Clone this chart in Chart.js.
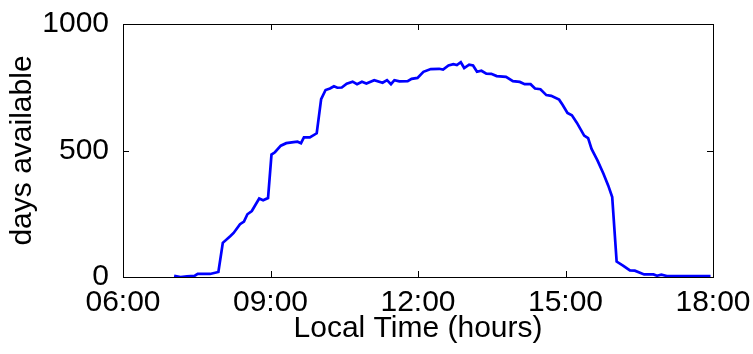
<!DOCTYPE html>
<html>
<head>
<meta charset="utf-8">
<script src="https://cdn.jsdelivr.net/npm/chart.js@4/dist/chart.umd.min.js"></script>
<style>
  body { margin: 0; background: #fff; }
</style>
</head>
<body>
<canvas id="chart" width="753" height="354"></canvas>
<script>
// local time in decimal hours, and number of days available
const hours = [
    7.04, 7.17, 7.30, 7.46, 7.52, 7.77, 7.94, 8.03, 8.18, 8.25,
    8.38, 8.46, 8.53, 8.62, 8.77, 8.85, 8.95, 9.02, 9.09, 9.21,
    9.32, 9.47, 9.55, 9.62, 9.68, 9.80, 9.94, 10.03, 10.12, 10.21,
    10.29, 10.36, 10.45, 10.55, 10.67, 10.76, 10.86, 10.95, 11.11, 11.28,
    11.37, 11.45, 11.52, 11.62, 11.79, 11.87, 11.99, 12.11, 12.26, 12.43,
    12.51, 12.62, 12.72, 12.79, 12.87, 12.94, 13.04, 13.12, 13.20, 13.29,
    13.39, 13.49, 13.60, 13.79, 13.93, 14.07, 14.17, 14.29, 14.38, 14.49,
    14.61, 14.71, 14.87, 14.94, 15.04, 15.13, 15.23, 15.38, 15.46, 15.53,
    15.65, 15.77, 15.87, 15.95, 16.04, 16.17, 16.31, 16.41, 16.60, 16.79,
    16.86, 16.95, 17.06, 17.95
];
const daysAvailable = [
    5, 0, 3, 5, 12, 12, 20, 135, 161, 174,
    209, 219, 248, 261, 310, 303, 312, 484, 493, 519,
    529, 533, 535, 529, 552, 552, 568, 703, 739, 745,
    754, 748, 749, 764, 772, 762, 772, 765, 778, 768,
    778, 762, 778, 773, 774, 783, 787, 811, 822, 823,
    820, 836, 841, 838, 849, 826, 839, 836, 811, 815,
    804, 803, 794, 791, 774, 771, 762, 762, 745, 742,
    719, 716, 701, 681, 648, 639, 610, 559, 549, 506,
    461, 409, 361, 316, 61, 45, 26, 25, 10, 10,
    5, 9, 4, 4
];
const xTicks = [6, 9, 12, 15, 18];
const yTicks = [0, 500, 1000];

const FONT = '"Liberation Sans", Arial, sans-serif';

// box around the plot plus inward tick marks on all four sides
const boxPlugin = {
    id: 'box',
    afterDraw(chart) {
        const ctx = chart.ctx;
        const a = chart.chartArea;
        const x = chart.scales.x;
        const y = chart.scales.y;
        const len = 6;
        ctx.save();
        ctx.strokeStyle = '#000';
        ctx.lineWidth = 1;
        ctx.strokeRect(a.left + 0.5, a.top + 0.5, a.right - a.left, a.bottom - a.top);
        ctx.beginPath();
        xTicks.forEach(v => {
            const px = Math.round(x.getPixelForValue(v)) + 0.5;
            ctx.moveTo(px, a.bottom); ctx.lineTo(px, a.bottom - len);
            ctx.moveTo(px, a.top); ctx.lineTo(px, a.top + len);
        });
        yTicks.forEach(v => {
            const py = Math.round(y.getPixelForValue(v)) + 0.5;
            ctx.moveTo(a.left, py); ctx.lineTo(a.left + len, py);
            ctx.moveTo(a.right, py); ctx.lineTo(a.right - len, py);
        });
        ctx.stroke();
        ctx.restore();
    }
};

new Chart(document.getElementById('chart').getContext('2d'), {
    type: 'line',
    data: {
        datasets: [{
            label: 'days available',
            data: hours.map((h, i) => ({ x: h, y: daysAvailable[i] })),
            borderColor: '#0000ff',
            borderWidth: 2.7,
            pointRadius: 0,
            tension: 0,
            fill: false
        }]
    },
    options: {
        responsive: false,
        animation: false,
        layout: {
            padding: { top: 18, right: 40, left: 0, bottom: 0 }
        },
        plugins: {
            legend: { display: false },
            tooltip: { enabled: false }
        },
        scales: {
            x: {
                type: 'linear',
                min: 6,
                max: 18,
                afterBuildTicks: scale => {
                    scale.ticks = xTicks.map(v => ({ value: v }));
                },
                afterFit: scale => { scale.height = 77; },
                ticks: {
                    color: '#000',
                    padding: 0,
                    maxRotation: 0,
                    font: { family: FONT, size: 30 },
                    callback: v => String(v).padStart(2, '0') + ':00'
                },
                grid: { display: false },
                border: { display: false },
                title: {
                    display: true,
                    text: 'Local Time (hours)',
                    color: '#000',
                    padding: { top: 0, bottom: 7 },
                    font: { family: FONT, size: 30 }
                }
            },
            y: {
                min: 0,
                max: 1000,
                afterBuildTicks: scale => {
                    scale.ticks = yTicks.map(v => ({ value: v }));
                },
                afterFit: scale => { scale.width = 123; },
                ticks: {
                    color: '#000',
                    padding: 6,
                    font: { family: FONT, size: 30 },
                    callback: v => String(v)
                },
                grid: { display: false },
                border: { display: false },
                title: {
                    display: true,
                    text: 'days available',
                    color: '#000',
                    padding: { top: 5, bottom: 0 },
                    font: { family: FONT, size: 30 }
                }
            }
        }
    },
    plugins: [boxPlugin]
});
</script>
</body>
</html>
